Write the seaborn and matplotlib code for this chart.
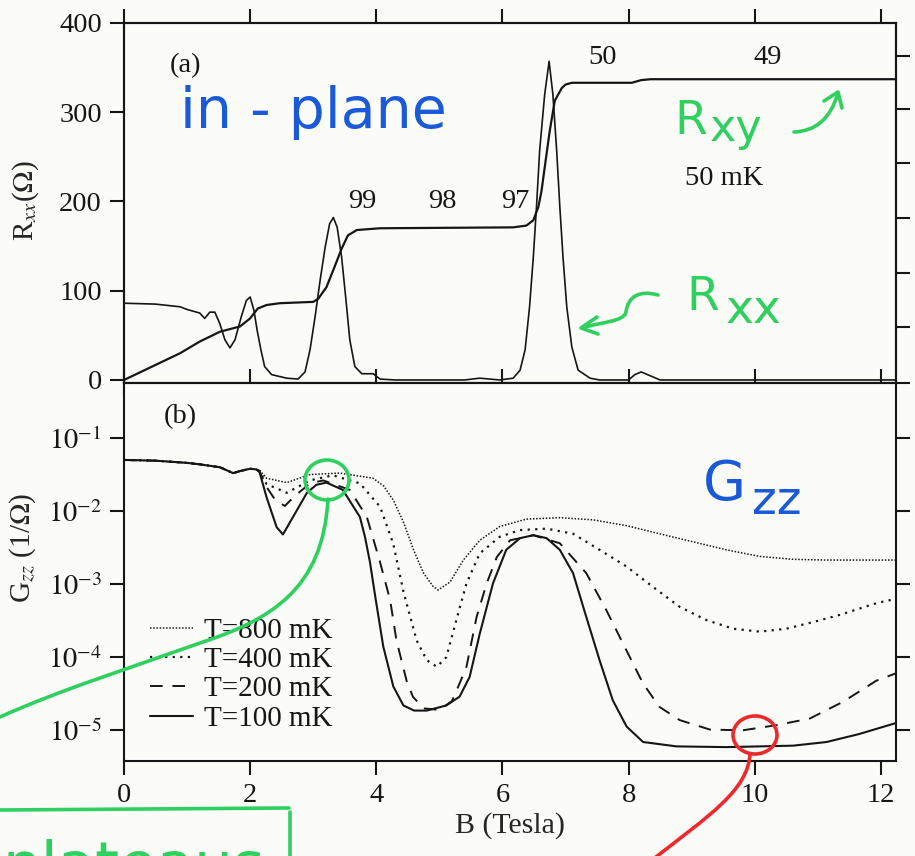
import numpy as np
import pandas as pd
import matplotlib
matplotlib.use("Agg")
import matplotlib.pyplot as plt
import seaborn as sns
from matplotlib.patches import Ellipse, PathPatch
from matplotlib.path import Path
from matplotlib.lines import Line2D

# ---------------- (a) in-plane transport, 50 mK ----------------
b_rxx = [0.0, 0.5, 0.89, 1.0, 1.2, 1.28, 1.36, 1.44, 1.52, 1.6, 1.68, 1.76,
         1.86, 1.94, 2.0, 2.06, 2.11, 2.17, 2.23, 2.34, 2.58, 2.76, 2.87,
         2.95, 3.03, 3.11, 3.19, 3.26, 3.32, 3.38, 3.45, 3.52, 3.58, 3.66,
         3.77, 3.95, 4.06, 4.3, 5.4, 5.64, 5.96, 6.17, 6.28, 6.36, 6.43,
         6.49, 6.54, 6.59, 6.67, 6.74, 6.80, 6.86, 6.91, 6.96, 7.02, 7.10,
         7.20, 7.39, 7.54, 8.0, 8.1, 8.2, 8.3, 8.5, 12.24]
rxx = [86, 85, 82, 79, 75, 69, 76, 76, 63, 45, 36, 45,
       71, 89, 93, 78, 56, 34, 15, 6, 2, 1, 9,
       34, 71, 112, 149, 175, 182, 171, 138, 89, 45, 15,
       7, 7, 1, 0, 0, 2, 0, 2, 11, 34, 82,
       138, 194, 257, 320, 357, 320, 257, 194, 138, 82, 37,
       11, 2, 0, 0, 6, 9, 6, 0, 0]

b_rxy = [0.0, 0.89, 1.2, 1.52, 1.68, 1.84, 2.0, 2.12, 2.26, 2.47, 3.0, 3.08,
         3.21, 3.34, 3.45, 3.55, 3.69, 4.06, 6.17, 6.38, 6.49, 6.57, 6.62,
         6.67, 6.75, 6.83, 6.94, 7.0, 7.1, 8.05, 8.2, 8.35, 12.24]
rxy = [0, 30, 43, 54, 57, 60, 69, 80, 84, 86, 87.5, 91,
       104, 127, 147, 162, 168, 170, 171, 173, 179, 194, 212,
       238, 279, 313, 327, 331, 333, 333, 336, 337, 337]

# right-hand Rxy scale ticks (unlabelled)
rxy_ticks = [-3.4, 59, 120, 181, 243, 304, 363]

# ---------------- (b) interlayer conductance Gzz, log10(1/Ohm) ----------------
b_low = [0.0, 0.5, 1.0, 1.2, 1.52, 1.73, 1.85, 2.0, 2.1]
log_low = [-1.30, -1.31, -1.34, -1.36, -1.40, -1.48, -1.45, -1.42, -1.43]

b_100 = [2.15, 2.26, 2.42, 2.52, 2.68, 2.9, 3.05, 3.21, 3.47, 3.74,
         3.82, 3.9, 3.98, 4.11, 4.27, 4.43, 4.6, 4.8, 5.11, 5.32,
         5.48, 5.64, 5.85, 6.06, 6.28, 6.49, 6.70, 6.91, 7.12, 7.33,
         7.54, 7.75, 7.97, 8.23, 8.76, 9.55, 10.61, 11.14, 11.66, 12.24]
log_100 = [-1.47, -1.81, -2.22, -2.32, -2.08, -1.75, -1.64, -1.61, -1.71, -2.08,
           -2.35, -2.7, -3.15, -3.85, -4.40, -4.66, -4.73, -4.73, -4.66, -4.54,
           -4.27, -3.68, -2.99, -2.53, -2.37, -2.33, -2.37, -2.53, -2.85, -3.45,
           -4.04, -4.59, -4.95, -5.16, -5.22, -5.23, -5.21, -5.16, -5.05, -4.90]

b_200 = [2.15, 2.26, 2.4, 2.55, 2.7, 2.95, 3.16, 3.58, 3.85, 4.06,
         4.22, 4.32, 4.48, 4.58, 4.75, 5.0, 5.2, 5.32, 5.43, 5.59,
         5.75, 5.91, 6.12, 6.49, 6.91, 7.33, 7.65, 7.91, 8.23, 8.49,
         8.81, 9.29, 9.81, 10.34, 10.87, 11.40, 11.93, 12.24]
log_200 = [-1.46, -1.67, -1.85, -1.93, -1.80, -1.62, -1.58, -1.71, -2.08, -2.70,
           -3.22, -3.77, -4.32, -4.54, -4.70, -4.72, -4.60, -4.36, -4.13, -3.45,
           -2.99, -2.63, -2.40, -2.33, -2.44, -2.85, -3.36, -3.81, -4.36, -4.68,
           -4.86, -4.99, -5.0, -4.93, -4.84, -4.61, -4.32, -4.22]

b_400 = [2.15, 2.26, 2.58, 2.95, 3.31, 3.74, 4.06, 4.27, 4.43, 4.64,
         4.80, 4.96, 5.11, 5.27, 5.43, 5.64, 5.96, 6.28, 6.70, 7.12,
         7.54, 7.97, 8.39, 8.81, 9.23, 9.66, 10.08, 10.50, 10.92, 11.35,
         11.93, 12.24]
log_400 = [-1.45, -1.63, -1.75, -1.58, -1.51, -1.62, -1.94, -2.45, -3.1, -3.77,
           -4.04, -4.13, -4.0, -3.49, -2.99, -2.58, -2.35, -2.26, -2.24, -2.31,
           -2.53, -2.76, -3.04, -3.31, -3.49, -3.61, -3.65, -3.61, -3.52, -3.42,
           -3.26, -3.2]

b_800 = [2.15, 2.26, 2.58, 2.95, 3.42, 3.95, 4.12, 4.27, 4.43, 4.59,
         4.75, 4.9, 4.98, 5.17, 5.38, 5.64, 5.96, 6.38, 6.91, 7.44,
         7.97, 8.49, 9.02, 9.55, 10.08, 10.61, 11.14, 12.24]
log_800 = [-1.44, -1.55, -1.61, -1.50, -1.48, -1.55, -1.66, -1.85, -2.15, -2.53,
           -2.85, -3.03, -3.08, -2.97, -2.67, -2.40, -2.21, -2.11, -2.09, -2.12,
           -2.20, -2.31, -2.42, -2.53, -2.62, -2.66, -2.67, -2.67]

temps = ["T=800 mK", "T=400 mK", "T=200 mK", "T=100 mK"]

x_ticks = [0, 2, 4, 6, 8, 10, 12]
r_ticks = [0, 100, 200, 300, 400]
g_ticks = [1e-1, 1e-2, 1e-3, 1e-4, 1e-5]
g_ticklabels = [r"$10^{-1}$", r"$10^{-2}$", r"$10^{-3}$", r"$10^{-4}$", r"$10^{-5}$"]

# ---------------- style ----------------
sns.set_theme(style="ticks")
plt.rcParams["font.family"] = ["Liberation Serif", "DejaVu Serif"]
plt.rcParams["mathtext.fontset"] = "stix"
paper = "#fbfbf8"
ink = "#161616"

W, H = 915, 856
fig = plt.figure(figsize=(W / 100, H / 100), dpi=100, facecolor=paper)

def fpos(left, top, right, bottom):
    return [left / W, 1 - bottom / H, (right - left) / W, (bottom - top) / H]

ax_a = fig.add_axes(fpos(124, 23, 896, 383))
ax_b = fig.add_axes(fpos(124, 383, 896, 761))

for ax in (ax_a, ax_b):
    ax.set_facecolor(paper)
    for s in ax.spines.values():
        s.set_linewidth(1.5)
        s.set_color(ink)
    ax.tick_params(direction="out", length=10, width=1.5, colors=ink,
                   labelsize=20.5, pad=6, top=True, right=False)
    ax.set_xlim(0, 12.24)
    ax.set_xticks(x_ticks)

# ---- panel (a) ----
df_rxx = pd.DataFrame({"B": b_rxx, "R": rxx})
df_rxy = pd.DataFrame({"B": b_rxy, "R": rxy})
sns.lineplot(data=df_rxx, x="B", y="R", ax=ax_a, color=ink, linewidth=1.2,
             sort=False, estimator=None)
sns.lineplot(data=df_rxy, x="B", y="R", ax=ax_a, color=ink, linewidth=1.6,
             sort=False, estimator=None)
ax_a.set_ylim(-3.4, 400)
ax_a.set_yticks(r_ticks)
ax_a.tick_params(labelbottom=False)
ax_a.set_xlabel("")
ax_a.set_ylabel(r"R$_{xx}$($\Omega$)", fontsize=21)
ax_a.yaxis.set_label_coords(-0.107, 0.507)

ax_r = ax_a.twinx()
ax_r.set_ylim(-3.4, 400)
ax_r.set_yticks(rxy_ticks)
ax_r.set_yticklabels([])
ax_r.tick_params(direction="out", length=10, width=1.5, colors=ink)
for s in ax_r.spines.values():
    s.set_linewidth(1.5)
    s.set_color(ink)

ax_a.text(0.97, 352, "(a)", fontsize=20.5, ha="center", va="center", color=ink)
for txt, bx, ry in [("99", 3.77, 200), ("98", 5.05, 200), ("97", 6.20, 200),
                    ("50", 7.59, 361), ("49", 10.2, 361)]:
    ax_a.text(bx, ry, txt, fontsize=20.5, ha="center", va="center", color=ink)
ax_a.text(9.52, 226, "50 mK", fontsize=20.5, ha="center", va="center", color=ink)

# ---- panel (b) ----
series = [
    (temps[0], b_800, log_800, dict(linewidth=1.1, linestyle=(0, (1, 1.1)))),
    (temps[1], b_400, log_400, dict(linewidth=1.6, linestyle=(0, (1, 2.4)))),
    (temps[2], b_200, log_200, dict(linewidth=1.4, linestyle=(0, (6.5, 5)))),
    (temps[3], b_100, log_100, dict(linewidth=1.5, linestyle="-")),
]
for label, bb, lg, st in series:
    df = pd.DataFrame({"B": b_low + bb, "G": np.power(10.0, log_low + lg)})
    sns.lineplot(data=df, x="B", y="G", ax=ax_b, color=ink, label=label,
                 sort=False, estimator=None, **st)
ax_b.set_yscale("log")
ax_b.set_ylim(10 ** -5.42, 10 ** -0.247)
ax_b.set_yticks(g_ticks)
ax_b.set_yticklabels(g_ticklabels)
ax_b.yaxis.set_minor_locator(matplotlib.ticker.NullLocator())
ax_b.tick_params(right=True)
ax_b.set_xticklabels([str(t) for t in x_ticks])
ax_b.set_xlabel("B (Tesla)", fontsize=21.5, labelpad=3)
ax_b.set_ylabel(r"G$_{zz}$ (1/$\Omega$)", fontsize=21)
ax_b.yaxis.set_label_coords(-0.111, 0.563)
ax_b.text(0.89, 10 ** -0.71, "(b)", fontsize=20.5, ha="center", va="center", color=ink)

leg = ax_b.legend(loc="upper left", bbox_to_anchor=(0.034, 0.38), frameon=False,
                  fontsize=21, handlelength=1.45, handletextpad=0.4,
                  labelspacing=0.1, borderpad=0.0, borderaxespad=0.0)
for t in leg.get_texts():
    t.set_color(ink)

# ---------------- hand-written notes ----------------
def px(x, y):
    return (x / W, 1 - y / H)

hand = "DejaVu Sans"
blue = "#1a5ad8"
green = "#2fd060"
red = "#ec2a2e"
T = fig.transFigure

fig.text(*px(180, 128), "in - plane", color=blue, fontsize=41, family=hand,
         va="baseline", ha="left")
fig.text(*px(703, 500), "G", color=blue, fontsize=40, family=hand,
         va="baseline", ha="left")
fig.text(*px(752, 514), "zz", color=blue, fontsize=34, family=hand,
         va="baseline", ha="left")

fig.text(*px(674, 134), "R", color=green, fontsize=34, family=hand,
         va="baseline", ha="left")
fig.text(*px(710, 141), "xy", color=green, fontsize=32, family=hand,
         va="baseline", ha="left")
fig.text(*px(686, 310), "R", color=green, fontsize=34, family=hand,
         va="baseline", ha="left")
fig.text(*px(726, 323), "xx", color=green, fontsize=34, family=hand,
         va="baseline", ha="left")

def curve(points, color, lw=2.6):
    pts = [px(*p) for p in points]
    codes = [Path.MOVETO] + [Path.CURVE4] * (len(pts) - 1)
    fig.add_artist(PathPatch(Path(pts, codes), transform=T, fill=False,
                             edgecolor=color, linewidth=lw, capstyle="round"))

def poly(points, color, lw=2.6):
    xs, ys = zip(*[px(*p) for p in points])
    fig.add_artist(Line2D(xs, ys, transform=T, color=color, linewidth=lw,
                          solid_capstyle="round", solid_joinstyle="round"))

# arrow beside Rxy
curve([(794, 132), (815, 131), (830, 120), (838, 93)], green)
poly([(824, 101), (838, 92), (842, 108)], green)
# wavy arrow beside Rxx
curve([(658, 295), (640, 290), (628, 296), (626, 312),
       (624, 322), (600, 322), (582, 328)], green)
poly([(597, 317), (581, 328), (598, 334)], green)

# green ring and lead to the box
fig.add_artist(Ellipse(px(327, 480), 44 / W, 40 / H, transform=T, fill=False,
                       edgecolor=green, linewidth=2.6))
curve([(328, 499), (323, 590), (270, 620), (200, 643),
       (130, 668), (60, 690), (0, 717)], green)
poly([(0, 810), (289, 808)], green)
poly([(290, 812), (290, 860)], green)
fig.text(*px(2, 885), "plateaus", color=green, fontsize=44, family=hand,
         va="baseline", ha="left")

# red ring and lead
fig.add_artist(Ellipse(px(755, 735), 44 / W, 38 / H, transform=T, fill=False,
                       edgecolor=red, linewidth=2.6))
curve([(750, 754), (748, 790), (710, 815), (652, 860)], red)

fig.savefig("out.png", dpi=100, facecolor=paper)
